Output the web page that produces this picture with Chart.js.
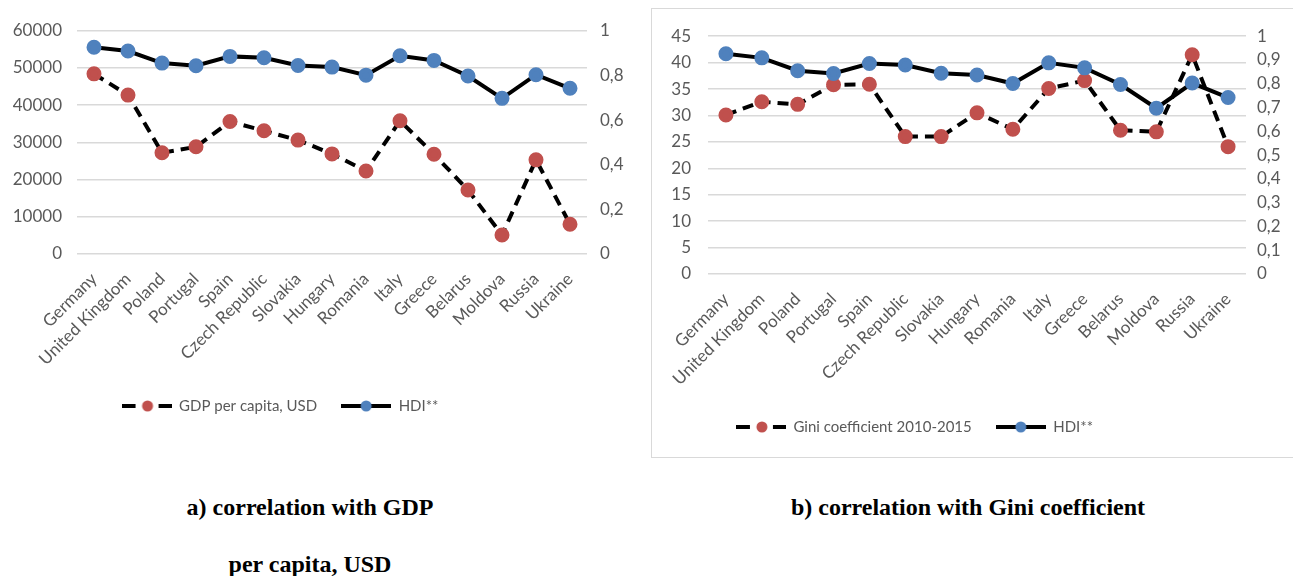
<!DOCTYPE html>
<html>
<head>
<meta charset="utf-8">
<script src="https://cdn.jsdelivr.net/npm/chart.js@4.4.1/dist/chart.umd.min.js"></script>
<style>
  html, body { margin: 0; padding: 0; background: #fff; overflow: hidden; }
  body { width: 1293px; height: 576px; position: relative; }
  canvas { position: absolute; }
  #gdpChart { left: 0; top: 0; }
  #giniChart { left: 652px; top: 9px; }
  .frame { position: absolute; left: 651px; top: 8px; width: 700px; height: 448px; border: 1px solid #d9d9d9; }
  .caption { position: absolute; font: bold 24px "Liberation Serif", "Times New Roman", serif; line-height: 28px; color: #000; text-align: center; white-space: nowrap; }
</style>
</head>
<body>
<div class="frame"></div>
<canvas id="gdpChart" width="640" height="440"></canvas>
<canvas id="giniChart" width="641" height="447"></canvas>
<div class="caption" style="left:110px; width:400px; top:493px;">a) correlation with GDP</div>
<div class="caption" style="left:110px; width:400px; top:550px;">per capita, USD</div>
<div class="caption" style="left:768px; width:400px; top:493px;">b) correlation with Gini coefficient</div>
<script>
const countries = ['Germany', 'United Kingdom', 'Poland', 'Portugal', 'Spain', 'Czech Republic', 'Slovakia',
    'Hungary', 'Romania', 'Italy', 'Greece', 'Belarus', 'Moldova', 'Russia', 'Ukraine'];
const gdpPerCapita = [48400, 42700, 27200, 28800, 35600, 33100, 30600, 26900, 22300, 35800, 26800, 17200, 5100, 25300, 8000];
const giniCoefficient = [30.1, 32.6, 32.1, 35.8, 35.9, 26.0, 26.0, 30.5, 27.4, 35.1, 36.6, 27.2, 26.9, 41.5, 24.1];
const hdi = [0.926, 0.909, 0.855, 0.843, 0.885, 0.879, 0.844, 0.837, 0.801, 0.888, 0.867, 0.797, 0.697, 0.803, 0.742];

const RED = '#c0504d';
const BLUE = '#4f81bd';
const TEXT = '#595959';
const FONT = 'Lato';

// legend glyphs: line + marker, like Excel
function glyph(color, dashed) {
    const c = document.createElement('canvas');
    c.width = 50; c.height = 12;
    const g = c.getContext('2d');
    g.fillStyle = '#000';
    if (dashed) {
        g.fillRect(0, 4, 14, 4);
        g.fillRect(37, 4, 13, 4);
    } else {
        g.fillRect(0, 4, 50, 4);
    }
    g.fillStyle = color;
    g.beginPath();
    g.arc(dashed ? 26 : 25, 6, 5.5, 0, Math.PI * 2);
    g.fill();
    return c;
}
const legendGlyphs = [glyph(RED, true), glyph(BLUE, false)];

const legendShift = {
    id: 'legendShift',
    afterLayout(chart, args, opts) {
        if (chart.legend && opts.dx) {
            chart.legend.left += opts.dx;
            chart.legend.right += opts.dx;
        }
    }
};

function rightTick(v) {
    const r = Math.round(v * 10) / 10;
    return Number.isInteger(r) ? String(r) : r.toFixed(1).replace('.', ',');
}

function makeChart(id, label, values, leftMax, leftStep, lay) {
    const ctx = document.getElementById(id).getContext('2d');
    return new Chart(ctx, {
        type: 'line',
        data: {
            labels: countries,
            datasets: [{
                label: label,
                data: values,
                yAxisID: 'y',
                borderColor: '#000',
                borderWidth: 4,
                borderDash: [11, 7],
                pointBackgroundColor: RED,
                pointBorderColor: RED,
                pointRadius: 5.5,
                order: 1
            }, {
                label: 'HDI**',
                data: hdi,
                yAxisID: 'y1',
                borderColor: '#000',
                borderWidth: 4,
                pointBackgroundColor: BLUE,
                pointBorderColor: BLUE,
                pointRadius: 5.5,
                order: 0
            }]
        },
        options: {
            responsive: false,
            animation: false,
            devicePixelRatio: 1,
            elements: { point: { pointStyle: 'circle' }, line: { tension: 0 } },
            layout: { padding: { top: lay.top, bottom: lay.bottom, left: 0, right: 0 } },
            scales: {
                x: {
                    offset: true,
                    grid: { display: false, drawTicks: false },
                    border: { display: false },
                    ticks: { color: TEXT, font: { family: FONT, size: 17 }, minRotation: 45, maxRotation: 45, padding: lay.xPad, autoSkip: false },
                    afterFit: (s) => { s.height = lay.xHeight; }
                },
                y: {
                    position: 'left',
                    min: 0, max: leftMax,
                    grid: { color: '#d9d9d9', lineWidth: 1.5, drawTicks: false },
                    border: { display: false },
                    ticks: { stepSize: leftStep, color: TEXT, font: { family: FONT, size: 17 }, padding: lay.leftPad, callback: (v) => String(v) },
                    afterFit: (s) => { s.width = lay.leftWidth; }
                },
                y1: {
                    position: 'right',
                    min: 0, max: 1,
                    grid: { display: false, drawTicks: false },
                    border: { display: false },
                    ticks: { stepSize: 0.1, color: TEXT, font: { family: FONT, size: 17 }, padding: lay.rightPad, callback: rightTick },
                    afterFit: (s) => { s.width = lay.rightWidth; }
                }
            },
            plugins: {
                tooltip: { enabled: false },
                legendShift: { dx: lay.legendDx },
                legend: {
                    position: 'bottom',
                    labels: {
                        usePointStyle: true,
                        pointStyleWidth: 50,
                        padding: 24,
                        color: TEXT,
                        font: { family: FONT, size: 15 },
                        generateLabels: (chart) => Chart.defaults.plugins.legend.labels.generateLabels(chart)
                            .map((item) => Object.assign(item, { pointStyle: legendGlyphs[item.datasetIndex] })),
                        sort: (a, b) => a.datasetIndex - b.datasetIndex
                    }
                }
            }
        },
        plugins: [legendShift]
    });
}

makeChart('gdpChart', 'GDP per capita, USD', gdpPerCapita, 60000, 10000, {
    top: 30.7, bottom: 16.5, xHeight: 120.5, xPad: 15,
    leftWidth: 77, leftPad: 15, rightWidth: 53, rightPad: 13, legendDx: -40
});

makeChart('giniChart', 'Gini coefficient 2010-2015', giniCoefficient, 45, 5, {
    top: 22.7, bottom: 11.5, xHeight: 121.5, xPad: 15,
    leftWidth: 56, leftPad: 17, rightWidth: 47, rightPad: 11, legendDx: -58
});
</script>
</body>
</html>
